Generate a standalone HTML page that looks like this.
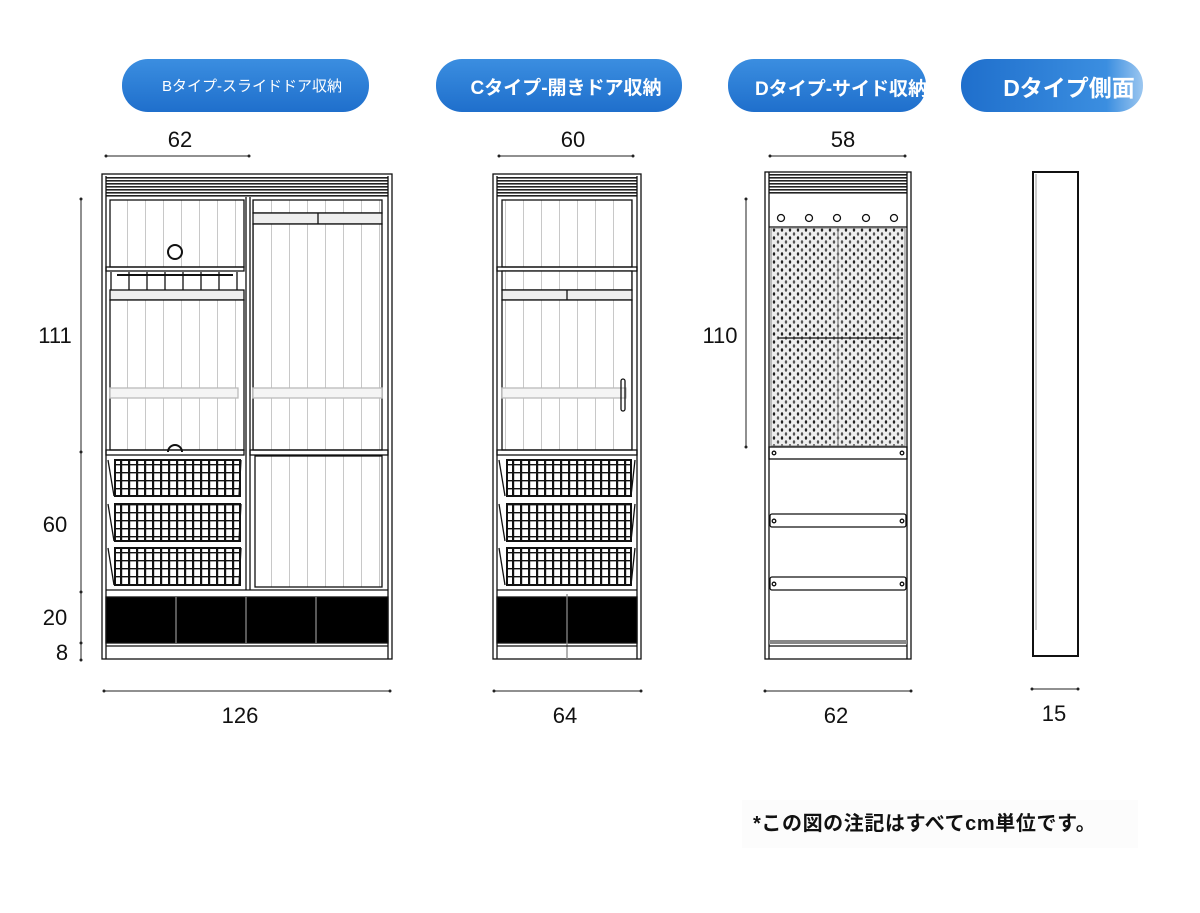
<!DOCTYPE html>
<html><head><meta charset="utf-8"><style>
body{margin:0;background:#fff;width:1200px;height:908px;overflow:hidden;font-family:"Liberation Sans","Noto Sans CJK JP",sans-serif}
</style></head><body>
<svg width="1200" height="908" viewBox="0 0 1200 908" xmlns="http://www.w3.org/2000/svg" font-family="Liberation Sans, Noto Sans CJK JP, sans-serif">
<defs>
<linearGradient id="pill" x1="0" y1="0" x2="0" y2="1"><stop offset="0" stop-color="#3b8ee0"/><stop offset="1" stop-color="#1f6fcc"/></linearGradient>
<linearGradient id="pill4" x1="0" y1="0" x2="1" y2="0"><stop offset="0" stop-color="#1f6fcc"/><stop offset="0.8" stop-color="#3b8ee0"/><stop offset="1" stop-color="#9cc7f0"/></linearGradient>
<pattern id="louv" width="10" height="3" patternUnits="userSpaceOnUse"><rect width="10" height="3" fill="#fff"/><rect width="10" height="1.6" fill="#222"/></pattern>
<pattern id="stripe" width="18" height="10" patternUnits="userSpaceOnUse" x="2"><rect width="18" height="10" fill="#fff"/><rect x="17" width="1" height="10" fill="#c8c8c8"/></pattern>
<pattern id="bask" width="8" height="8" patternUnits="userSpaceOnUse"><rect width="8" height="8" fill="#fff"/><rect width="2.2" height="8" fill="#111"/><rect width="8" height="1.4" fill="#111"/></pattern>
<pattern id="peg" width="8" height="8" patternUnits="userSpaceOnUse"><rect width="8" height="8" fill="#eee"/><ellipse cx="2" cy="2" rx="1.2" ry="1.7" fill="#555"/><ellipse cx="6" cy="6" rx="1.2" ry="1.7" fill="#222"/></pattern>
</defs>

<rect x="122" y="59" width="247" height="53" rx="26" fill="url(#pill)"/>
<text x="252" y="91" font-size="15" fill="#fff" text-anchor="middle">Bタイプ-スライドドア収納</text>
<rect x="436" y="59" width="246" height="53" rx="26" fill="url(#pill)"/>
<text x="566" y="94" font-size="19" fill="#fff" text-anchor="middle" font-weight="bold">Cタイプ-開きドア収納</text>
<rect x="728" y="59" width="198" height="53" rx="26" fill="url(#pill)"/>
<text x="755" y="95" font-size="19" fill="#fff" font-weight="bold">Dタイプ-サイド収納</text>
<rect x="961" y="59" width="182" height="53" rx="26" fill="url(#pill4)"/>
<text x="1069" y="96" font-size="23" fill="#fff" text-anchor="middle" font-weight="bold">Dタイプ側面</text>

<g stroke="#222" stroke-width="1" fill="none" font-size="22">
<line x1="106" y1="156" x2="249" y2="156"/><line x1="499" y1="156" x2="633" y2="156"/><line x1="770" y1="156" x2="905" y2="156"/>
<line x1="104" y1="691" x2="390" y2="691"/><line x1="494" y1="691" x2="641" y2="691"/><line x1="765" y1="691" x2="911" y2="691"/><line x1="1032" y1="689" x2="1078" y2="689"/>
<line x1="81" y1="199" x2="81" y2="660"/>
<line x1="746" y1="199" x2="746" y2="447"/>
</g>
<g fill="#222">
<circle cx="81" cy="199" r="1.5"/><circle cx="81" cy="452" r="1.5"/><circle cx="81" cy="592" r="1.5"/><circle cx="81" cy="643" r="1.5"/><circle cx="81" cy="660" r="1.5"/>
<circle cx="746" cy="199" r="1.5"/><circle cx="746" cy="447" r="1.5"/>
<circle cx="104" cy="691" r="1.5"/><circle cx="390" cy="691" r="1.5"/><circle cx="494" cy="691" r="1.5"/><circle cx="641" cy="691" r="1.5"/><circle cx="765" cy="691" r="1.5"/><circle cx="911" cy="691" r="1.5"/><circle cx="1032" cy="689" r="1.5"/><circle cx="1078" cy="689" r="1.5"/>
<circle cx="106" cy="156" r="1.5"/><circle cx="249" cy="156" r="1.5"/><circle cx="499" cy="156" r="1.5"/><circle cx="633" cy="156" r="1.5"/><circle cx="770" cy="156" r="1.5"/><circle cx="905" cy="156" r="1.5"/>
</g>
<g font-size="22" fill="#111" text-anchor="middle">
<text x="180" y="147">62</text><text x="573" y="147">60</text><text x="843" y="147">58</text>
<text x="55" y="343">111</text><text x="55" y="532">60</text><text x="55" y="625">20</text><text x="62" y="660">8</text>
<text x="720" y="343">110</text>
<text x="240" y="723">126</text><text x="565" y="723">64</text><text x="836" y="723">62</text><text x="1054" y="721">15</text>
</g>

<g stroke="#111" fill="none" stroke-width="1.3">
<rect x="102" y="174" width="290" height="485"/>
<rect x="106" y="176" width="282" height="21" fill="url(#louv)" stroke="none"/>
<line x1="106" y1="176" x2="106" y2="659"/><line x1="388" y1="176" x2="388" y2="659"/>
<rect x="110" y="200" width="134" height="67" fill="url(#stripe)"/>
<circle cx="175" cy="252" r="7" stroke-width="2"/>
<rect x="106" y="267" width="138" height="4"/>
<line x1="117" y1="275" x2="233" y2="275" stroke-width="2"/>
<path d="M111 290V272M129 290V272M147 290V272M165 290V272M183 290V272M201 290V272M219 290V272M237 290V272"/>
<rect x="110" y="290" width="134" height="10" fill="#eee"/>
<rect x="110" y="300" width="134" height="150" fill="url(#stripe)"/>
<rect x="110" y="388" width="128" height="10" fill="#f4f4f4" stroke="#bbb"/>
<path d="M168 452a7 7 0 0 1 14 0" stroke-width="2"/>
<rect x="106" y="450" width="138" height="5"/>
<rect x="115" y="460" width="125" height="36" fill="url(#bask)" stroke-width="2"/>
<rect x="115" y="504" width="125" height="37" fill="url(#bask)" stroke-width="2"/>
<rect x="115" y="548" width="125" height="37" fill="url(#bask)" stroke-width="2"/>
<path d="M108 460l6 36M241 460l-2 36M108 504l6 37M241 504l-2 37M108 548l6 37M241 548l-2 37"/>
<line x1="246" y1="197" x2="246" y2="590"/><line x1="250" y1="197" x2="250" y2="590"/>
<rect x="253" y="200" width="129" height="13" fill="url(#stripe)"/>
<rect x="253" y="213" width="129" height="11" fill="#eee"/>
<line x1="318" y1="213" x2="318" y2="224"/>
<rect x="253" y="224" width="129" height="226" fill="url(#stripe)"/>
<rect x="253" y="388" width="129" height="10" fill="#f4f4f4" stroke="#bbb"/>
<rect x="250" y="450" width="138" height="5"/>
<rect x="255" y="456" width="127" height="131" fill="url(#stripe)"/>
<line x1="106" y1="590" x2="388" y2="590"/>
<rect x="106" y="597" width="282" height="46" fill="#000"/>
<path d="M176 597v46M246 597v46M316 597v46" stroke="#888"/>
<line x1="106" y1="646" x2="388" y2="646"/>
</g>

<g stroke="#111" fill="none" stroke-width="1.3">
<rect x="493" y="174" width="148" height="485"/>
<rect x="497" y="176" width="140" height="21" fill="url(#louv)" stroke="none"/>
<line x1="497" y1="176" x2="497" y2="659"/><line x1="637" y1="176" x2="637" y2="659"/>
<rect x="502" y="200" width="130" height="67" fill="url(#stripe)"/>
<rect x="497" y="267" width="140" height="4"/>
<rect x="502" y="271" width="130" height="19" fill="url(#stripe)"/>
<rect x="502" y="290" width="130" height="10" fill="#eee"/>
<line x1="567" y1="290" x2="567" y2="300"/>
<rect x="502" y="300" width="130" height="150" fill="url(#stripe)"/>
<rect x="502" y="388" width="124" height="10" fill="#f4f4f4" stroke="#bbb"/>
<rect x="621" y="379" width="4" height="32" rx="2"/>
<rect x="497" y="450" width="140" height="5"/>
<rect x="507" y="460" width="124" height="36" fill="url(#bask)" stroke-width="2"/>
<rect x="507" y="504" width="124" height="37" fill="url(#bask)" stroke-width="2"/>
<rect x="507" y="548" width="124" height="37" fill="url(#bask)" stroke-width="2"/>
<path d="M499 460l6 36M635 460l-4 36M499 504l6 37M635 504l-4 37M499 548l6 37M635 548l-4 37"/>
<line x1="497" y1="590" x2="637" y2="590"/>
<rect x="497" y="597" width="140" height="46" fill="#000"/>
<path d="M567 594v65" stroke="#888"/>
<line x1="497" y1="646" x2="637" y2="646"/>
</g>

<g stroke="#111" fill="none" stroke-width="1.3">
<rect x="765" y="172" width="146" height="487"/>
<rect x="769" y="174" width="138" height="21" fill="url(#louv)" stroke="none"/>
<line x1="769" y1="172" x2="769" y2="659"/><line x1="907" y1="172" x2="907" y2="659"/>
<circle cx="781" cy="218" r="3.5"/><circle cx="809" cy="218" r="3.5"/><circle cx="837" cy="218" r="3.5"/><circle cx="866" cy="218" r="3.5"/><circle cx="894" cy="218" r="3.5"/>
<line x1="769" y1="227" x2="907" y2="227"/>
<rect x="771" y="228" width="134" height="218" fill="url(#peg)" stroke="#999"/>
<line x1="838" y1="228" x2="838" y2="446" stroke="#888"/>
<line x1="778" y1="338" x2="903" y2="338"/>
<rect x="769" y="447" width="138" height="12"/>
<circle cx="774" cy="453" r="1.8"/><circle cx="902" cy="453" r="1.8"/>
<rect x="770" y="514" width="136" height="13" rx="2"/>
<circle cx="774" cy="521" r="1.8"/><circle cx="902" cy="521" r="1.8"/>
<rect x="770" y="577" width="136" height="13" rx="2"/>
<circle cx="774" cy="584" r="1.8"/><circle cx="902" cy="584" r="1.8"/>
<rect x="769" y="640" width="138" height="4" fill="#888" stroke="none"/>
<line x1="769" y1="646" x2="907" y2="646"/>
</g>

<rect x="1033" y="172" width="45" height="484" fill="none" stroke="#111" stroke-width="2"/>
<line x1="1036" y1="174" x2="1036" y2="630" stroke="#999"/>

<rect x="742" y="800" width="396" height="48" fill="#fcfcfc"/>
<text x="753" y="830" font-size="20" fill="#111" font-weight="bold" letter-spacing="0.6">*この図の注記はすべてcm単位です。</text>
</svg>
</body></html>
